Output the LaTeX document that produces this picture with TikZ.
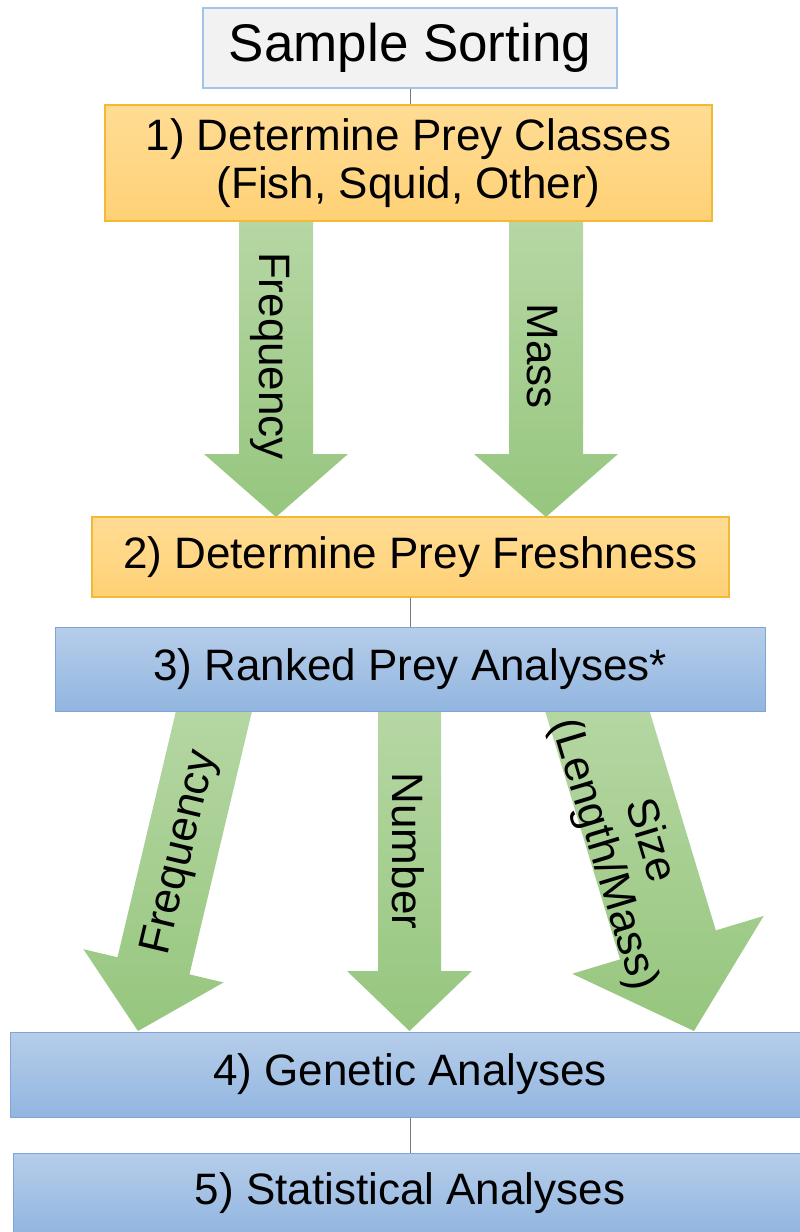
\documentclass[tikz,border=0pt]{standalone}
\usepackage{fontspec}
\setmainfont{Liberation Sans}
\usetikzlibrary{calc}
\definecolor{grnT}{RGB}{184,216,166}
\definecolor{grnB}{RGB}{150,198,126}
\definecolor{orT}{RGB}{255,220,148}
\definecolor{orB}{RGB}{255,209,118}
\definecolor{orD}{RGB}{242,186,52}
\definecolor{blT}{RGB}{182,205,234}
\definecolor{blB}{RGB}{146,182,224}
\definecolor{blD}{RGB}{128,165,212}
\definecolor{ssF}{RGB}{242,242,243}
\definecolor{ssD}{RGB}{165,195,230}
\definecolor{lineC}{RGB}{120,120,120}
% start, tip, shaft half width, head half width, head length
\newcommand\fatarrow[5]{%
  \path ($(#2)!#5!(#1)$) coordinate (hb);
  \shade[top color=grnT,bottom color=grnB]
    ($(#1)!#3!90:(#2)$) -- ($(hb)!#3!90:(#2)$) -- ($(hb)!#4!90:(#2)$) -- (#2)
    -- ($(hb)!#4!-90:(#2)$) -- ($(hb)!#3!-90:(#2)$) -- ($(#1)!#3!-90:(#2)$) -- cycle;}
\tikzset{
  box/.style={rectangle, inner sep=0pt, align=center, font=\fontsize{44}{48}\selectfont},
  ssbox/.style={box, draw=ssD, line width=1.2pt, fill=ssF, font=\fontsize{53}{58}\selectfont},
  orbox/.style={box, draw=orD, line width=1.2pt, top color=orT, bottom color=orB},
  blbox/.style={box, draw=blD, line width=1pt, top color=blT, bottom color=blB},
  lbl/.style={font=\fontsize{44}{48}\selectfont, inner sep=0pt, align=center},
  conn/.style={draw=lineC, line width=0.8pt}
}
\begin{document}
\begin{tikzpicture}[x=1pt,y=-1pt]
\useasboundingbox (0,0) rectangle (800,1232);
\clip (0,0) rectangle (800,1232);
% arrow end coordinates
\coordinate (a1s) at (276,200);
\coordinate (a1t) at (276,517);
\coordinate (a2s) at (546,200);
\coordinate (a2t) at (546,517);
\coordinate (a3s) at (219,690);
\coordinate (a3t) at (138,1031);
\coordinate (a4s) at (409.5,690);
\coordinate (a4t) at (409.5,1031);
\coordinate (a5s) at (591,690);
\coordinate (a5t) at (694,1031);
% arrows
\fatarrow{a1s}{a1t}{37pt}{72pt}{63pt}
\fatarrow{a2s}{a2t}{37pt}{72pt}{63pt}
\fatarrow{a3s}{a3t}{37pt}{72pt}{67pt}
\fatarrow{a4s}{a4t}{31.5pt}{62.5pt}{60pt}
\fatarrow{a5s}{a5t}{50pt}{100pt}{90pt}
% boxes
\node[ssbox, minimum width=414pt, minimum height=80pt] (ss) at (410,48) {Sample Sorting};
\node[orbox, minimum width=607pt, minimum height=116pt] (b1) at (408.5,163) {1) Determine Prey Classes\\(Fish, Squid, Other)};
\node[orbox, minimum width=637pt, minimum height=80pt] (b2) at (410.5,557) {2) Determine Prey Freshness};
\node[blbox, minimum width=710pt, minimum height=84pt] (b3) at (410,669) {3) Ranked Prey Analyses*};
\node[blbox, minimum width=800pt, minimum height=85pt] (b4) at (410,1074.5) {4) Genetic Analyses};
\node[blbox, minimum width=794pt, minimum height=80pt] (b5) at (410,1193) {5) Statistical Analyses};
% connectors
\draw[conn] (ss.south) -- (ss.south |- b1.north);
\draw[conn] (b2.south) -- (b2.south |- b3.north);
\draw[conn] (b4.south) -- (b4.south |- b5.north);
% labels
\node[lbl, rotate=-90] (l1) at (270,356) {Frequency};
\node[lbl, rotate=-90] (l2) at (542,356) {Mass};
\node[lbl, rotate=76.6] (l3) at (181,853) {Frequency};
\node[lbl, rotate=-90] (l4) at (408,851) {Number};
\node[lbl, rotate=-73.2] (l5) at (626,848) {Size\\(Length/Mass)};
\end{tikzpicture}
\end{document}
